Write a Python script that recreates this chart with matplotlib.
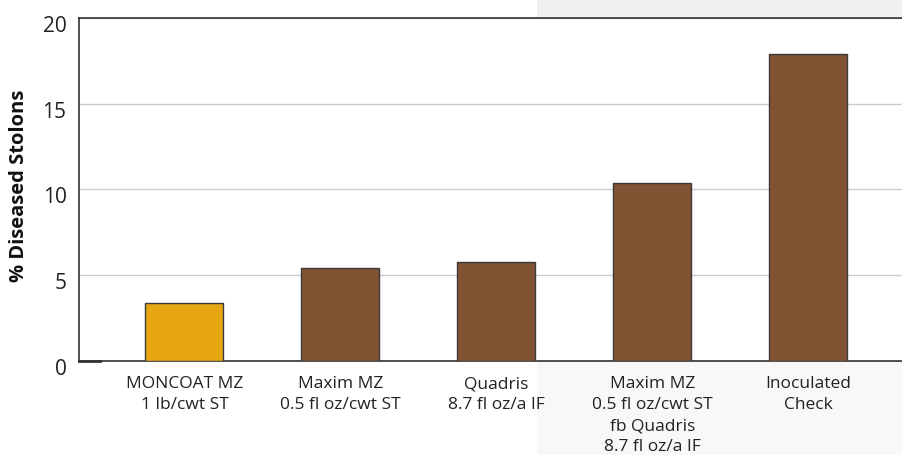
import matplotlib
matplotlib.use("Agg")
import matplotlib.pyplot as plt
import matplotlib.transforms as mtrans
from matplotlib.patches import Rectangle

treatments = ["MONCOAT MZ\n1 lb/cwt ST",
              "Maxim MZ\n0.5 fl oz/cwt ST",
              "Quadris\n8.7 fl oz/a IF",
              "Maxim MZ\n0.5 fl oz/cwt ST\nfb Quadris\n8.7 fl oz/a IF",
              "Inoculated\nCheck"]
diseased = [3.4, 5.4, 5.8, 10.4, 17.9]
bar_colors = ["#E6A713", "#825332", "#825332", "#825332", "#825332"]
yticks = [0, 5, 10, 15, 20]

plt.rcParams["font.family"] = ["Open Sans", "DejaVu Sans"]

fig = plt.figure(figsize=(9.02, 4.55), dpi=100)
# light grey panel behind the right part of the figure (darker above the plot)
fig.patches.append(Rectangle((537 / 902, 0), 1, 1, transform=fig.transFigure,
                             facecolor="#f8f8f9", edgecolor="none", zorder=-5))
fig.patches.append(Rectangle((537 / 902, 1 - 20 / 455), 1, 1, transform=fig.transFigure,
                             facecolor="#eff0f2", edgecolor="none", zorder=-4))
ax = fig.add_axes([79 / 902, 1 - 361 / 455, 1 - 79 / 902, (361 - 18) / 455])
ax.set_facecolor("white")

x = range(len(treatments))
ax.bar(x, diseased, width=0.5, color=bar_colors, edgecolor="#3a3a3a",
       linewidth=1.0, zorder=3)

ax.set_xlim(-0.676, 4.6)
ax.set_ylim(0, 20)
ax.set_yticks(yticks)
ax.set_yticklabels([str(v) for v in yticks], fontsize=15, color="#222222")
ax.set_xticks(list(x))
ax.set_xticklabels(treatments, fontsize=12.5, color="#222222", linespacing=1.42)
ax.tick_params(axis="both", length=0)
ax.tick_params(axis="x", pad=11)
ax.tick_params(axis="y", pad=9)
off = mtrans.ScaledTranslation(0, -6 / 100, fig.dpi_scale_trans)
for lbl in ax.get_yticklabels():
    lbl.set_transform(lbl.get_transform() + off)

ax.yaxis.grid(True, color="#cccccc", linewidth=1.0, zorder=0)
ax.set_axisbelow(True)
ax.spines["right"].set_visible(False)
for s in ("left", "top", "bottom"):
    ax.spines[s].set_color("#333333")
    ax.spines[s].set_linewidth(1.2)
ax.plot([-0.676, -0.54], [0, 0], color="#333333", linewidth=2, clip_on=False, zorder=4)

ax.set_ylabel("% Diseased Stolons", fontsize=14.5, fontweight="bold", color="#111111")
ax.yaxis.set_label_coords(-0.061, 0.51)

fig.savefig("out.png", dpi=100)
